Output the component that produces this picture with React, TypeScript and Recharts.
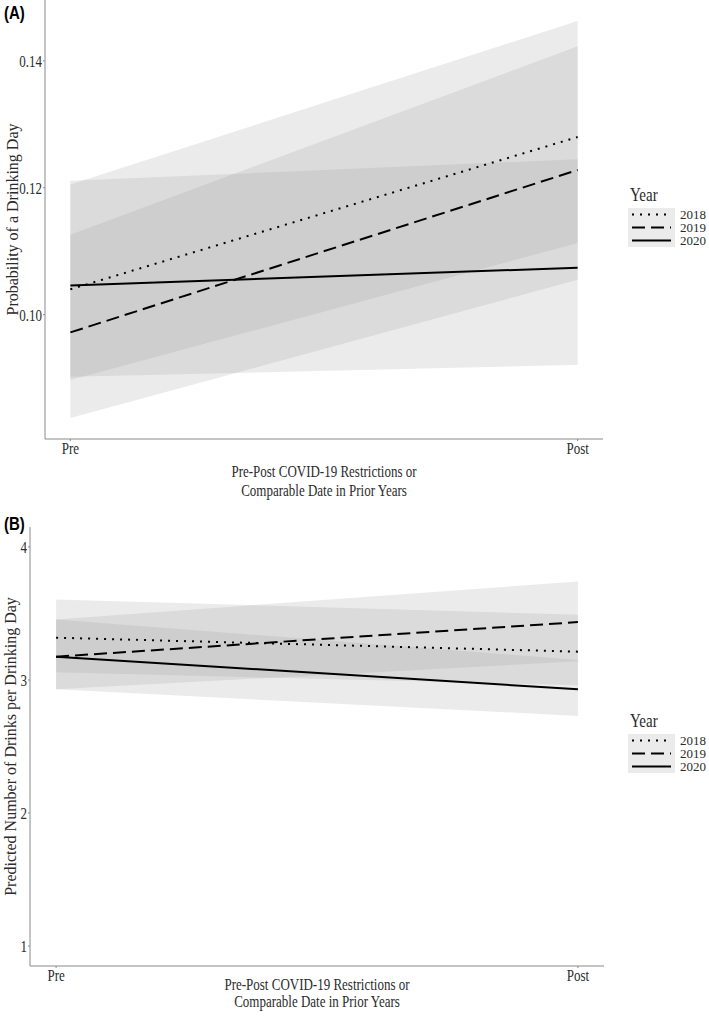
import React from 'react'
import { ComposedChart, Area, Line, XAxis, YAxis, Label } from 'recharts'

const periods = ['Pre', 'Post']
const periodX = [0, 1]
const years = ['2018', '2019', '2020']

// (A) probability of a drinking day, fitted value + ribbon per year
const probMean2018 = [0.104, 0.128]
const probMean2019 = [0.0972, 0.1228]
const probMean2020 = [0.1046, 0.1074]
const probLo2018 = [0.0897, 0.1113]
const probHi2018 = [0.1205, 0.1463]
const probLo2019 = [0.0837, 0.1055]
const probHi2019 = [0.1126, 0.1423]
const probLo2020 = [0.0902, 0.0921]
const probHi2020 = [0.1211, 0.1245]
const probTicks = [0.1, 0.12, 0.14]

// (B) predicted drinks per drinking day
const drinksMean2018 = [3.318, 3.213]
const drinksMean2019 = [3.175, 3.435]
const drinksMean2020 = [3.175, 2.93]
const drinksLo2018 = [3.058, 2.96]
const drinksHi2018 = [3.605, 3.49]
const drinksLo2019 = [2.93, 3.14]
const drinksHi2019 = [3.455, 3.74]
const drinksLo2020 = [2.93, 2.73]
const drinksHi2020 = [3.455, 3.15]
const drinksTicks = [1, 2, 3, 4]

const probData = periodX.map((x, i) => ({
  x,
  m2018: probMean2018[i],
  m2019: probMean2019[i],
  m2020: probMean2020[i],
  r2018: [probLo2018[i], probHi2018[i]],
  r2019: [probLo2019[i], probHi2019[i]],
  r2020: [probLo2020[i], probHi2020[i]],
}))

const drinksData = periodX.map((x, i) => ({
  x,
  m2018: drinksMean2018[i],
  m2019: drinksMean2019[i],
  m2020: drinksMean2020[i],
  r2018: [drinksLo2018[i], drinksHi2018[i]],
  r2019: [drinksLo2019[i], drinksHi2019[i]],
  r2020: [drinksLo2020[i], drinksHi2020[i]],
}))

const serif = '"Liberation Serif", "Times New Roman", serif'
const axisGrey = '#8a8a8a'
const textCol = '#2b2b2b'
// the original figure is stretched vertically, so horizontal text gets a taller glyph
const stretch = 1.25
const dashFor: Record<string, string | undefined> = {
  '2018': '2 6',
  '2019': '13 6',
  '2020': undefined,
}

function TallText({ x, y, anchor, dy, size = 13, children }: any) {
  return (
    <g transform={`translate(${x},${y}) scale(1,${stretch})`}>
      <text x={0} y={0} dy={dy} textAnchor={anchor} fontFamily={serif} fontSize={size} fill={textCol}>
        {children}
      </text>
    </g>
  )
}

function XTick(props: any) {
  const { x, y, payload } = props
  return (
    <TallText x={x} y={y} anchor="middle" dy="0.71em">
      {periods[payload.value]}
    </TallText>
  )
}

function YTick(props: any) {
  const { x, y, payload, digits } = props
  return (
    <TallText x={x} y={y} anchor="end" dy="0.36em">
      {digits ? payload.value.toFixed(digits) : String(payload.value)}
    </TallText>
  )
}

function XTitle(props: any) {
  const vb = props.viewBox
  const cx = vb.x + vb.width / 2
  return (
    <g>
      <TallText x={cx} y={vb.y + props.dy1} anchor="middle">
        Pre-Post COVID-19 Restrictions or
      </TallText>
      <TallText x={cx} y={vb.y + props.dy2} anchor="middle">
        Comparable Date in Prior Years
      </TallText>
    </g>
  )
}

function YTitle(props: any) {
  const vb = props.viewBox
  const cy = vb.y + vb.height / 2
  const x = props.tx
  return (
    <text
      x={x}
      y={cy}
      transform={`rotate(-90, ${x}, ${cy})`}
      textAnchor="middle"
      dominantBaseline="central"
      fontFamily={serif}
      fontSize={16}
      fill={textCol}
    >
      {props.text}
    </text>
  )
}

function YearLegend({ top }: { top: number }) {
  return (
    <div style={{ position: 'absolute', left: 628, top, fontFamily: serif, color: textCol }}>
      <div style={{ fontSize: 15, lineHeight: '18px', marginLeft: 2, transform: `scaleY(${stretch})`, transformOrigin: 'left center' }}>
        Year
      </div>
      <div style={{ display: 'flex', marginTop: 4 }}>
        <svg width={47} height={39} style={{ display: 'block' }}>
          <rect x={0} y={0} width={47} height={39} fill="#ebebeb" />
          {years.map((y, i) => (
            <line
              key={y}
              x1={4}
              x2={43}
              y1={6.5 + i * 13}
              y2={6.5 + i * 13}
              stroke="#000"
              strokeWidth={2}
              strokeDasharray={dashFor[y]}
            />
          ))}
        </svg>
        <div style={{ marginLeft: 5, fontSize: 13, lineHeight: '13px' }}>
          {years.map((y) => (
            <div key={y} style={{ height: 13 }}>{y}</div>
          ))}
        </div>
      </div>
    </div>
  )
}

function Panel({ data, height, marginTop, right, yWidth, xHeight, domain, ticks, digits, yTitle, yTitleX, dy1, dy2 }: any) {
  return (
    <ComposedChart width={709} height={height} data={data} margin={{ top: marginTop, right, bottom: 0, left: 0 }}>
      <XAxis
        dataKey="x"
        type="number"
        domain={[-0.05, 1.05]}
        ticks={periodX}
        allowDataOverflow
        height={xHeight}
        stroke={axisGrey}
        tickSize={2}
        tickMargin={1}
        tick={<XTick />}
      >
        <Label content={(p: any) => <XTitle {...p} dy1={dy1} dy2={dy2} />} />
      </XAxis>
      <YAxis
        type="number"
        domain={domain}
        ticks={ticks}
        allowDataOverflow
        width={yWidth}
        stroke={axisGrey}
        tickSize={2}
        tickMargin={1}
        tick={<YTick digits={digits} />}
      >
        <Label content={(p: any) => <YTitle {...p} tx={yTitleX} text={yTitle} />} />
      </YAxis>
      {years.map((y) => (
        <Area
          key={'a' + y}
          dataKey={'r' + y}
          type="linear"
          stroke="none"
          fill="#999999"
          fillOpacity={0.2}
          isAnimationActive={false}
          activeDot={false}
        />
      ))}
      {years.map((y) => (
        <Line
          key={'l' + y}
          dataKey={'m' + y}
          type="linear"
          stroke="#000"
          strokeWidth={2}
          strokeDasharray={dashFor[y]}
          dot={false}
          activeDot={false}
          isAnimationActive={false}
        />
      ))}
    </ComposedChart>
  )
}

const panelLabel = {
  position: 'absolute' as const,
  left: 4,
  fontFamily: '"Liberation Sans", Arial, sans-serif',
  fontWeight: 'bold' as const,
  fontSize: 15,
  transform: `scaleY(${stretch})`,
  transformOrigin: 'left top',
}

export default function App() {
  return (
    <div style={{ position: 'relative', width: 709, height: 1018, background: '#fff', overflow: 'hidden' }}>
      <style>{'body{margin:0}'}</style>

      <div style={{ ...panelLabel, top: 1 }}>(A)</div>
      <div style={{ position: 'absolute', left: 0, top: 0 }}>
        <Panel
          data={probData}
          height={510}
          marginTop={0}
          right={106}
          yWidth={45}
          xHeight={71}
          domain={[0.0804, 0.1496]}
          ticks={probTicks}
          digits={2}
          yTitle="Probability of a Drinking Day"
          yTitleX={12}
          dy1={38}
          dy2={57}
        />
      </div>
      <YearLegend top={186} />

      <div style={{ ...panelLabel, top: 512 }}>(B)</div>
      <div style={{ position: 'absolute', left: 0, top: 515 }}>
        <Panel
          data={drinksData}
          height={503}
          marginTop={12}
          right={105}
          yWidth={30}
          xHeight={52}
          domain={[0.85, 4.15]}
          ticks={drinksTicks}
          digits={0}
          yTitle="Predicted Number of Drinks per Drinking Day"
          yTitleX={10}
          dy1={24}
          dy2={41}
        />
      </div>
      <YearLegend top={712} />
    </div>
  )
}
